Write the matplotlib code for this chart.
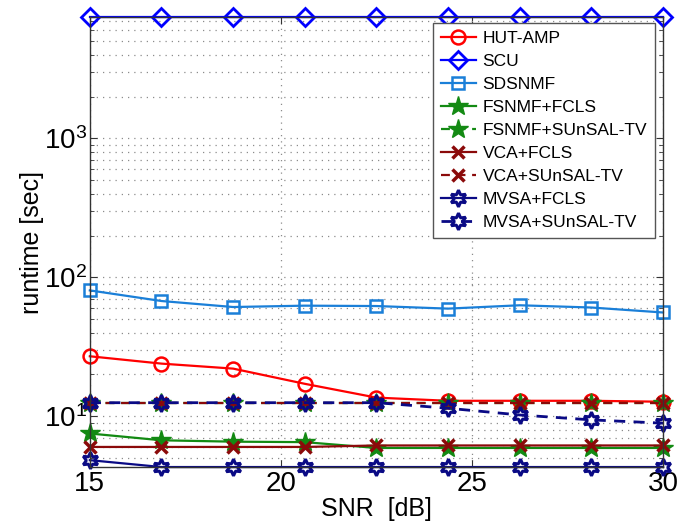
import matplotlib
matplotlib.use("Agg")
import matplotlib.pyplot as plt
from matplotlib.ticker import LogLocator, NullFormatter

plt.rcParams["font.family"] = ["Liberation Sans", "DejaVu Sans"]
plt.rcParams["mathtext.fontset"] = "custom"
plt.rcParams["mathtext.rm"] = "Liberation Sans"

# SNR levels and runtimes (seconds) per method
snr = [15, 16.875, 18.75, 20.625, 22.5, 24.375, 26.25, 28.125, 30]

hut_amp = [27.0, 23.9, 22.0, 17.1, 13.6, 12.9, 12.9, 12.9, 12.7]
scu = [7500, 7500, 7500, 7500, 7500, 7500, 7500, 7500, 7500]
sdsnmf = [80.5, 67.5, 61.1, 62.5, 62.1, 59.5, 62.9, 60.6, 55.8]
fsnmf_fcls = [7.5, 6.7, 6.55, 6.5, 5.9, 5.9, 5.9, 5.9, 5.9]
fsnmf_sunsal = [12.5, 12.5, 12.5, 12.5, 12.5, 12.5, 12.5, 12.5, 12.5]
vca_fcls = [6.0, 6.0, 6.0, 6.0, 6.15, 6.15, 6.15, 6.15, 6.15]
vca_sunsal = [12.5, 12.5, 12.5, 12.5, 12.5, 12.5, 12.5, 12.5, 12.5]
mvsa_fcls = [4.82, 4.3, 4.3, 4.3, 4.3, 4.3, 4.3, 4.3, 4.3]
mvsa_sunsal = [12.5, 12.5, 12.5, 12.5, 12.5, 11.4, 10.2, 9.4, 8.9]

hexagram = (6, 1, 0)
dash = (4, 3)
dots = (0, (1, 4))

fig = plt.figure(figsize=(6.91, 5.23), dpi=100)
ax = fig.add_axes([0.130, 0.107, 0.8295, 0.8605])

lw = 1.6
ax.plot(snr, hut_amp, color="#ff0000", lw=lw, marker="o", ms=10,
        mfc="none", mew=1.8, label="HUT-AMP", clip_on=False)
ax.plot(snr, scu, color="#0000ff", lw=lw, marker="D", ms=9,
        mfc="none", mew=2.0, label="SCU", clip_on=False)
ax.plot(snr, sdsnmf, color="#1a7fd8", lw=lw, marker="s", ms=8,
        mfc="none", mew=1.8, label="SDSNMF", clip_on=False)
ax.plot(snr, fsnmf_fcls, color="#138a13", lw=lw, marker="*", ms=15,
        mfc="#138a13", mew=1.0, label="FSNMF+FCLS", clip_on=False)
ax.plot(snr, fsnmf_sunsal, color="#138a13", lw=lw, ls="--", dashes=dash,
        marker="*", ms=15, mfc="#138a13", mew=1.0,
        label="FSNMF+SUnSAL-TV", clip_on=False)
ax.plot(snr, vca_fcls, color="#8b0a0a", lw=lw, marker="x", ms=9,
        mew=2.5, label="VCA+FCLS", clip_on=False)
ax.plot(snr, vca_sunsal, color="#8b0a0a", lw=lw, ls="--", dashes=dash,
        marker="x", ms=9, mew=2.5, label="VCA+SUnSAL-TV", clip_on=False)
ax.plot(snr, mvsa_fcls, color="#0a0a85", lw=lw, marker=hexagram, ms=12,
        mfc="none", mew=2.2, label="MVSA+FCLS", clip_on=False)
ax.plot(snr, mvsa_sunsal, color="#0a0a85", lw=2.0, ls="--", dashes=dash,
        marker=hexagram, ms=12, mfc="none", mew=2.2,
        label="MVSA+SUnSAL-TV", clip_on=False)

ax.set_yscale("log")
ax.set_xlim(15, 30)
ax.set_ylim(4.3, 7500)
ax.set_xticks([15, 20, 25, 30])
ax.set_xticklabels(["15", "20", "25", "30"])
ax.yaxis.set_major_locator(LogLocator(base=10, numticks=10))
ax.yaxis.set_minor_locator(LogLocator(base=10, subs=range(2, 10), numticks=30))
ax.yaxis.set_minor_formatter(NullFormatter())

ax.tick_params(axis="both", which="both", direction="in", top=True,
               right=True, labelsize=20, color="#333333")
ax.tick_params(axis="both", which="major", length=5)
ax.tick_params(axis="x", which="major", pad=3)
ax.tick_params(axis="y", which="major", pad=2)
ax.tick_params(axis="y", which="minor", length=3)

ax.grid(True, which="major", axis="both", ls=dots, color="#8c8c8c", lw=0.9)
ax.grid(True, which="minor", axis="y", ls=dots, color="#8c8c8c", lw=0.9)
ax.set_axisbelow(True)
for s in ax.spines.values():
    s.set_color("#333333")
    s.set_linewidth(1.0)

ax.set_xlabel("SNR  [dB]", fontsize=18, labelpad=0)
ax.set_ylabel("runtime [sec]", fontsize=18, labelpad=0)

leg = ax.legend(loc="upper right", bbox_to_anchor=(655 / 691, 1 - 23 / 523),
                bbox_transform=fig.transFigure, borderaxespad=0,
                fontsize=12.5, fancybox=False, framealpha=1,
                edgecolor="#555555", handlelength=2.0, handletextpad=0.4,
                labelspacing=0.45, borderpad=0.45)
leg.get_frame().set_linewidth(1.0)

fig.savefig("out.png", dpi=100)
